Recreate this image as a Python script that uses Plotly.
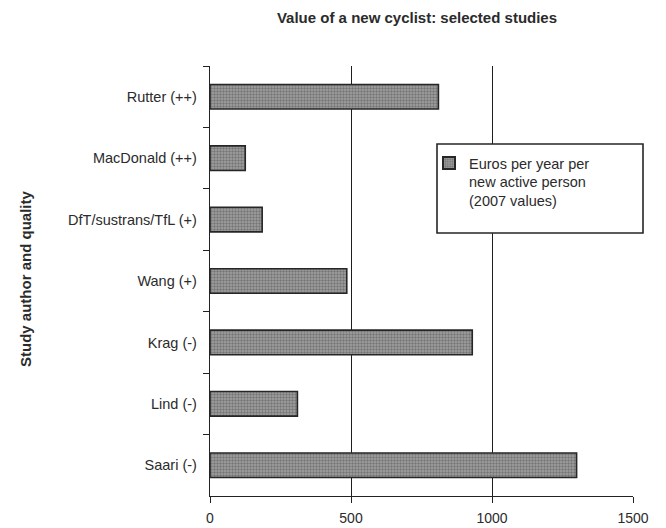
import plotly.graph_objects as go

# Studies (top to bottom) and their value estimates
studies = [
    "Rutter (++)",
    "MacDonald (++)",
    "DfT/sustrans/TfL (+)",
    "Wang (+)",
    "Krag (-)",
    "Lind (-)",
    "Saari (-)",
]
euros_per_person = [810, 125, 185, 485, 930, 310, 1300]

series_name = "Euros per year per<br>new active person<br>(2007 values)"
title_text = "Value of a new cyclist: selected studies"
y_title = "Study author and quality"
x_ticks = [0, 500, 1000, 1500]

FONT = "Liberation Sans, Arial, sans-serif"
INK = "#2b2b2b"

fig = go.Figure()
fig.add_trace(
    go.Bar(
        x=euros_per_person,
        y=studies,
        orientation="h",
        name=series_name,
        marker=dict(
            color="#9a9a9a",
            line=dict(color="#262626", width=1.6),
            pattern=dict(shape=".", size=3, solidity=0.5,
                         fgcolor="#474747", bgcolor="#a4a4a4"),
        ),
        showlegend=True,
    )
)

W, H = 666, 528
L, R, T, B = 210, 33, 66, 32

fig.update_layout(
    width=W,
    height=H,
    margin=dict(l=L, r=R, t=T, b=B, autoexpand=False),
    paper_bgcolor="white",
    plot_bgcolor="white",
    bargap=0.6,
    font=dict(family=FONT, color=INK, size=14.5),
    title=dict(
        text="<b>" + title_text + "</b>",
        font=dict(family=FONT, size=15, color=INK),
        xref="container", x=417 / W, xanchor="center",
        yref="container", y=1 - 18 / H, yanchor="middle",
    ),
    xaxis=dict(
        range=[0, 1500],
        tickvals=x_ticks,
        ticktext=[str(v) for v in x_ticks],
        ticks="outside",
        ticklen=6,
        tickwidth=1.3,
        tickcolor="#222",
        showline=True,
        linecolor="#222",
        linewidth=1.4,
        showgrid=True,
        gridcolor="#1e1e1e",
        gridwidth=1.3,
        zeroline=False,
        ticklabelstandoff=3,
        tickfont=dict(family=FONT, size=14, color=INK),
        fixedrange=True,
    ),
    yaxis=dict(
        categoryorder="array",
        categoryarray=studies,
        autorange="reversed",
        ticks="outside",
        tickson="boundaries",
        ticklen=6,
        tickwidth=1.3,
        tickcolor="#222",
        showline=True,
        linecolor="#222",
        linewidth=1.4,
        showgrid=False,
        zeroline=False,
        ticklabelstandoff=9,
        tickfont=dict(family=FONT, size=14.5, color=INK),
        fixedrange=True,
    ),
    legend=dict(
        x=(429 - L) / (W - L - R),
        y=(H - B - 147) / (H - T - B),
        xanchor="left",
        yanchor="top",
        valign="top",
        bgcolor="rgba(0,0,0,0)",
        borderwidth=0,
        font=dict(family=FONT, size=14.5, color=INK),
        itemsizing="constant",
        tracegroupgap=0,
    ),
    showlegend=True,
)

# Legend frame drawn as a white box over the gridlines
pw, ph = W - L - R, H - T - B
fig.add_shape(
    type="rect",
    xref="paper", yref="paper",
    x0=(437 - L) / pw, x1=(643 - L) / pw,
    y0=(H - B - 233) / ph, y1=(H - B - 144) / ph,
    fillcolor="white",
    line=dict(color="#262626", width=1.6),
    layer="above",
)

# Vertical y-axis title
fig.add_annotation(
    text="<b>" + y_title + "</b>",
    xref="paper", yref="paper",
    x=(25 - L) / pw, y=(H - B - 279) / ph,
    xanchor="center", yanchor="middle",
    textangle=-90,
    showarrow=False,
    font=dict(family=FONT, size=15, color=INK),
)

fig.write_html("out.html")
